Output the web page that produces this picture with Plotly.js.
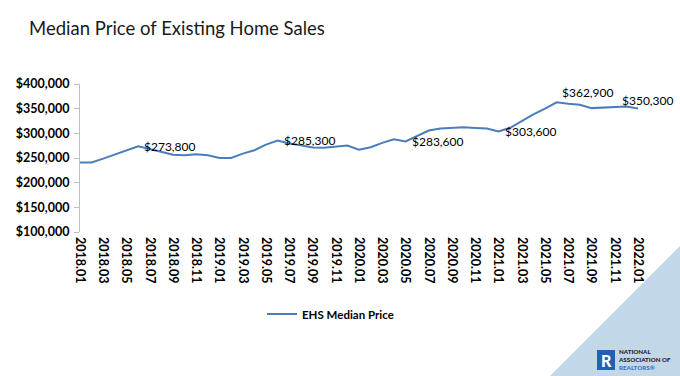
<!DOCTYPE html>
<html>
<head>
<meta charset="utf-8">
<script src="https://cdn.plot.ly/plotly-3.0.1.min.js"></script>
<style>html,body{margin:0;padding:0;background:#fff;}#chart{width:680px;height:376px;}</style>
</head>
<body>
<div id="chart"></div>
<script>
// ---- data ----
const months = [
  "2018.01","2018.02","2018.03","2018.04","2018.05","2018.06","2018.07","2018.08","2018.09","2018.10","2018.11","2018.12",
  "2019.01","2019.02","2019.03","2019.04","2019.05","2019.06","2019.07","2019.08","2019.09","2019.10","2019.11","2019.12",
  "2020.01","2020.02","2020.03","2020.04","2020.05","2020.06","2020.07","2020.08","2020.09","2020.10","2020.11","2020.12",
  "2021.01","2021.02","2021.03","2021.04","2021.05","2021.06","2021.07","2021.08","2021.09","2021.10","2021.11","2021.12",
  "2022.01"
];
const medianPrice = [
  241000,241000,248700,256800,264300,273800,268400,262300,256800,255400,257400,255400,
  250100,250000,258900,265600,277200,285300,279200,275800,271100,271000,272500,275200,
  267000,271700,280600,288000,283600,294900,305700,309800,311200,312400,311000,309800,
  303600,311200,324600,338300,349900,362900,360000,358000,351100,352500,353900,354600,
  350300
];
const tickMonths = ["2018.01","2018.03","2018.05","2018.07","2018.09","2018.11",
  "2019.01","2019.03","2019.05","2019.07","2019.09","2019.11",
  "2020.01","2020.03","2020.05","2020.07","2020.09","2020.11",
  "2021.01","2021.03","2021.05","2021.07","2021.09","2021.11","2022.01"];
const yTicks = [100000,150000,200000,250000,300000,350000,400000];
const labelMonths = ["2018.06","2019.06","2020.05","2021.01","2021.06","2022.01"];
const labelTexts  = ["$273,800","$285,300","$283,600","$303,600","$362,900","$350,300"];
const labelShiftX = [4,4,4,4,3,-18];
const labelShiftY = [0,0,0,0,10,8];
const seriesName = "EHS Median Price";

// ---- geometry helpers ----
const W=680,H=376,L=80,R=42,T=84,B=144;
const pw=W-L-R, ph=H-T-B;
const px=p=>(p-L)/pw, py=p=>(H-B-p)/ph;

const annotations = labelMonths.map((m,k)=>{
  const i = months.indexOf(m);
  return {
    x: i, y: medianPrice[i], xref:'x', yref:'y',
    text: labelTexts[k], showarrow:false, xanchor:'left', yanchor:'middle',
    xshift: labelShiftX[k], yshift: labelShiftY[k],
    font:{family:'Lato, sans-serif', size:12, color:'#000'}
  };
});
// logo text (one block) and logo letter
annotations.push(
  {xref:'paper',yref:'paper',x:px(617),y:py(359.5),showarrow:false,xanchor:'left',yanchor:'middle',align:'left',borderpad:0,
   text:'NATIONAL<br>ASSOCIATION OF<br><span style="fill:#3a72c4">REALTORS®</span>',
   font:{family:'Lato, sans-serif',size:6.2,weight:900,color:'#222'}},
  {xref:'paper',yref:'paper',x:px(606),y:py(360),text:'R',showarrow:false,xanchor:'center',yanchor:'middle',
   font:{family:'Lato, sans-serif',size:16,weight:900,color:'#fff'}}
);

const shapes = [
  {type:'path', xref:'paper', yref:'paper', layer:'below',
   path:`M ${px(681)},${py(245)} L ${px(681)},${py(377)} L ${px(549)},${py(377)} Z`,
   fillcolor:'#c2d8e9', line:{width:0}},
  {type:'rect', xref:'paper', yref:'paper', layer:'above',
   x0:px(597), x1:px(615), y0:py(350), y1:py(370), fillcolor:'#2160b3', line:{width:0}}
];

const trace = {
  type:'scatter', mode:'lines', x: months, y: medianPrice, name: seriesName,
  line:{color:'#4a7ebb', width:2}, showlegend:true
};

const tickFont = {family:'Lato, sans-serif', size:12.5, weight:700, color:'#000'};

const layout = {
  width:W, height:H,
  margin:{l:L, r:R, t:T, b:B, pad:0},
  paper_bgcolor:'#fff', plot_bgcolor:'rgba(0,0,0,0)',
  title:{text:'Median Price of Existing Home Sales', x:29/W, xanchor:'left', y:1-29/H, yanchor:'middle',
         font:{family:'Lato, sans-serif', size:18.5, color:'#1a1a1a'}},
  xaxis:{type:'category', range:[0, months.length-1], tickmode:'array', tickvals:tickMonths, ticktext:tickMonths,
         tickangle:90, showgrid:false, zeroline:false, showline:false, ticks:'', tickfont:tickFont,
         ticklabelstandoff:4, fixedrange:true},
  yaxis:{range:[100000,400000], tickmode:'array', tickvals:yTicks, tickformat:'$,.0f', showgrid:false, zeroline:false,
         showline:true, linecolor:'#bfbfbf', linewidth:1, ticks:'outside', ticklen:5, tickcolor:'#bfbfbf',
         tickfont:tickFont, ticklabelstandoff:2},
  legend:{orientation:'h', x:px(262), xanchor:'left', y:py(314), yanchor:'middle',
          font:{family:'Lato, sans-serif', size:11.5, weight:700, color:'#000'}, bgcolor:'rgba(0,0,0,0)'},
  showlegend:true,
  annotations: annotations,
  shapes: shapes
};

Plotly.newPlot('chart',[trace],layout,{staticPlot:true, displayModeBar:false});
</script>
</body>
</html>
